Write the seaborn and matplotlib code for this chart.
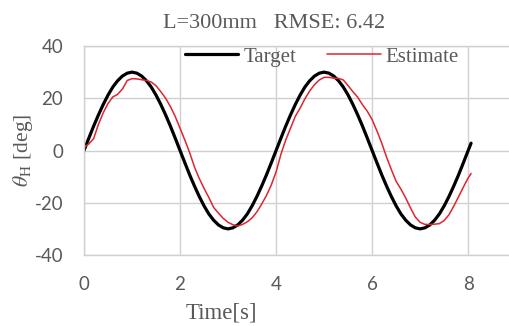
import numpy as np
import pandas as pd
import matplotlib
matplotlib.use("Agg")
import matplotlib.pyplot as plt
import seaborn as sns

# time axis [s]
time = list(np.round(np.arange(0, 8.01, 0.1), 1)) + [8.06]

# target angle [deg]
target = [0, 4.7, 9.3, 13.6, 17.6, 21.2, 24.3, 26.7, 28.5, 29.6,
          30, 29.6, 28.5, 26.7, 24.3, 21.2, 17.6, 13.6, 9.3, 4.7,
          0, -4.7, -9.3, -13.6, -17.6, -21.2, -24.3, -26.7, -28.5, -29.6,
          -30, -29.6, -28.5, -26.7, -24.3, -21.2, -17.6, -13.6, -9.3, -4.7,
          0, 4.7, 9.3, 13.6, 17.6, 21.2, 24.3, 26.7, 28.5, 29.6,
          30, 29.6, 28.5, 26.7, 24.3, 21.2, 17.6, 13.6, 9.3, 4.7,
          0, -4.7, -9.3, -13.6, -17.6, -21.2, -24.3, -26.7, -28.5, -29.6,
          -30, -29.6, -28.5, -26.7, -24.3, -21.2, -17.6, -13.6, -9.3, -4.7,
          0, 2.8]

# estimated angle [deg]
estimate = [1.2, 2.5, 4.5, 10, 14.4, 18, 20.5, 21.5, 23.5, 26.8,
            27.5, 27.4, 27.1, 26.8, 26.2, 24.8, 22.5, 20, 16.8, 13,
            8.5, 4, -0.8, -6.3, -10.7, -14.5, -18, -21.8, -24, -26,
            -27.5, -28.4, -28.9, -28.3, -27.3, -25.8, -23.5, -20.5, -17.2, -13.2,
            -8.2, -1.5, 4, 8.5, 13.1, 16.2, 19.8, 22.8, 25.2, 27,
            28, 28, 27.7, 27.6, 27, 24.8, 22.5, 20.4, 17.5, 15,
            11.8, 7.5, 2.8, -2.5, -7.3, -11.8, -14.8, -18.2, -22, -25.5,
            -27.5, -28.3, -28.3, -28.2, -28, -26.8, -24.6, -21.3, -17.7, -14,
            -10.5, -8.8]

df = pd.DataFrame({"time": time, "Target": target, "Estimate": estimate})

sns.set_style("white")
plt.rcParams["mathtext.fontset"] = "stix"
plt.rcParams["axes.unicode_minus"] = False

fig = plt.figure(figsize=(5.09, 3.26), dpi=100)
ax = fig.add_axes([84 / 509, 71 / 326, 425 / 509, 209 / 326])

sns.lineplot(data=df, x="time", y="Target", ax=ax, color="black", linewidth=2.3, label="Target")
sns.lineplot(data=df, x="time", y="Estimate", ax=ax, color="#e0242f", linewidth=1.1, label="Estimate")

grey = "#595959"
ax.set_xlim(0, 8.85)
ax.set_ylim(-40, 40)
ax.set_xticks([0, 2, 4, 6, 8])
ax.set_yticks([-40, -20, 0, 20, 40])
ax.grid(True, color="#d0d0d0", linewidth=1.0)
ax.spines["right"].set_visible(False)
for s in ["left", "bottom", "top"]:
    ax.spines[s].set_color("#d0d0d0")
    ax.spines[s].set_linewidth(1.0)
ax.tick_params(axis="both", labelsize=13.5, labelcolor=grey, colors="#d0d0d0", length=0)
ax.tick_params(axis="x", pad=15)
ax.tick_params(axis="y", length=3, pad=12)
for lab in ax.get_xticklabels() + ax.get_yticklabels():
    lab.set_fontfamily("Lato")

ax.set_xlabel("")
ax.set_ylabel("")
fig.text(221 / 509, 1 - 313 / 326, "Time[s]", family="Liberation Serif",
         fontsize=16.5, color=grey, ha="center", va="center")
fig.text(23 / 509, 1 - 150 / 326, r"$\theta_{\mathrm{H}}$ [deg]", family="Liberation Serif",
         fontsize=15.5, color=grey, ha="center", va="center", rotation=90)
fig.text(274 / 509, 1 - 23 / 326, "L=300mm   RMSE: 6.42", family="Liberation Serif",
         fontsize=16, color=grey, ha="center", va="center")

leg = ax.legend(loc="upper left", bbox_to_anchor=(101 / 425, 0.995), ncol=2, frameon=False,
                handlelength=2.55, handletextpad=0.25, columnspacing=1.5, borderpad=0,
                prop={"family": "Liberation Serif", "size": 15}, borderaxespad=0)
for t in leg.get_texts():
    t.set_color(grey)

fig.savefig("out.png", dpi=100)
